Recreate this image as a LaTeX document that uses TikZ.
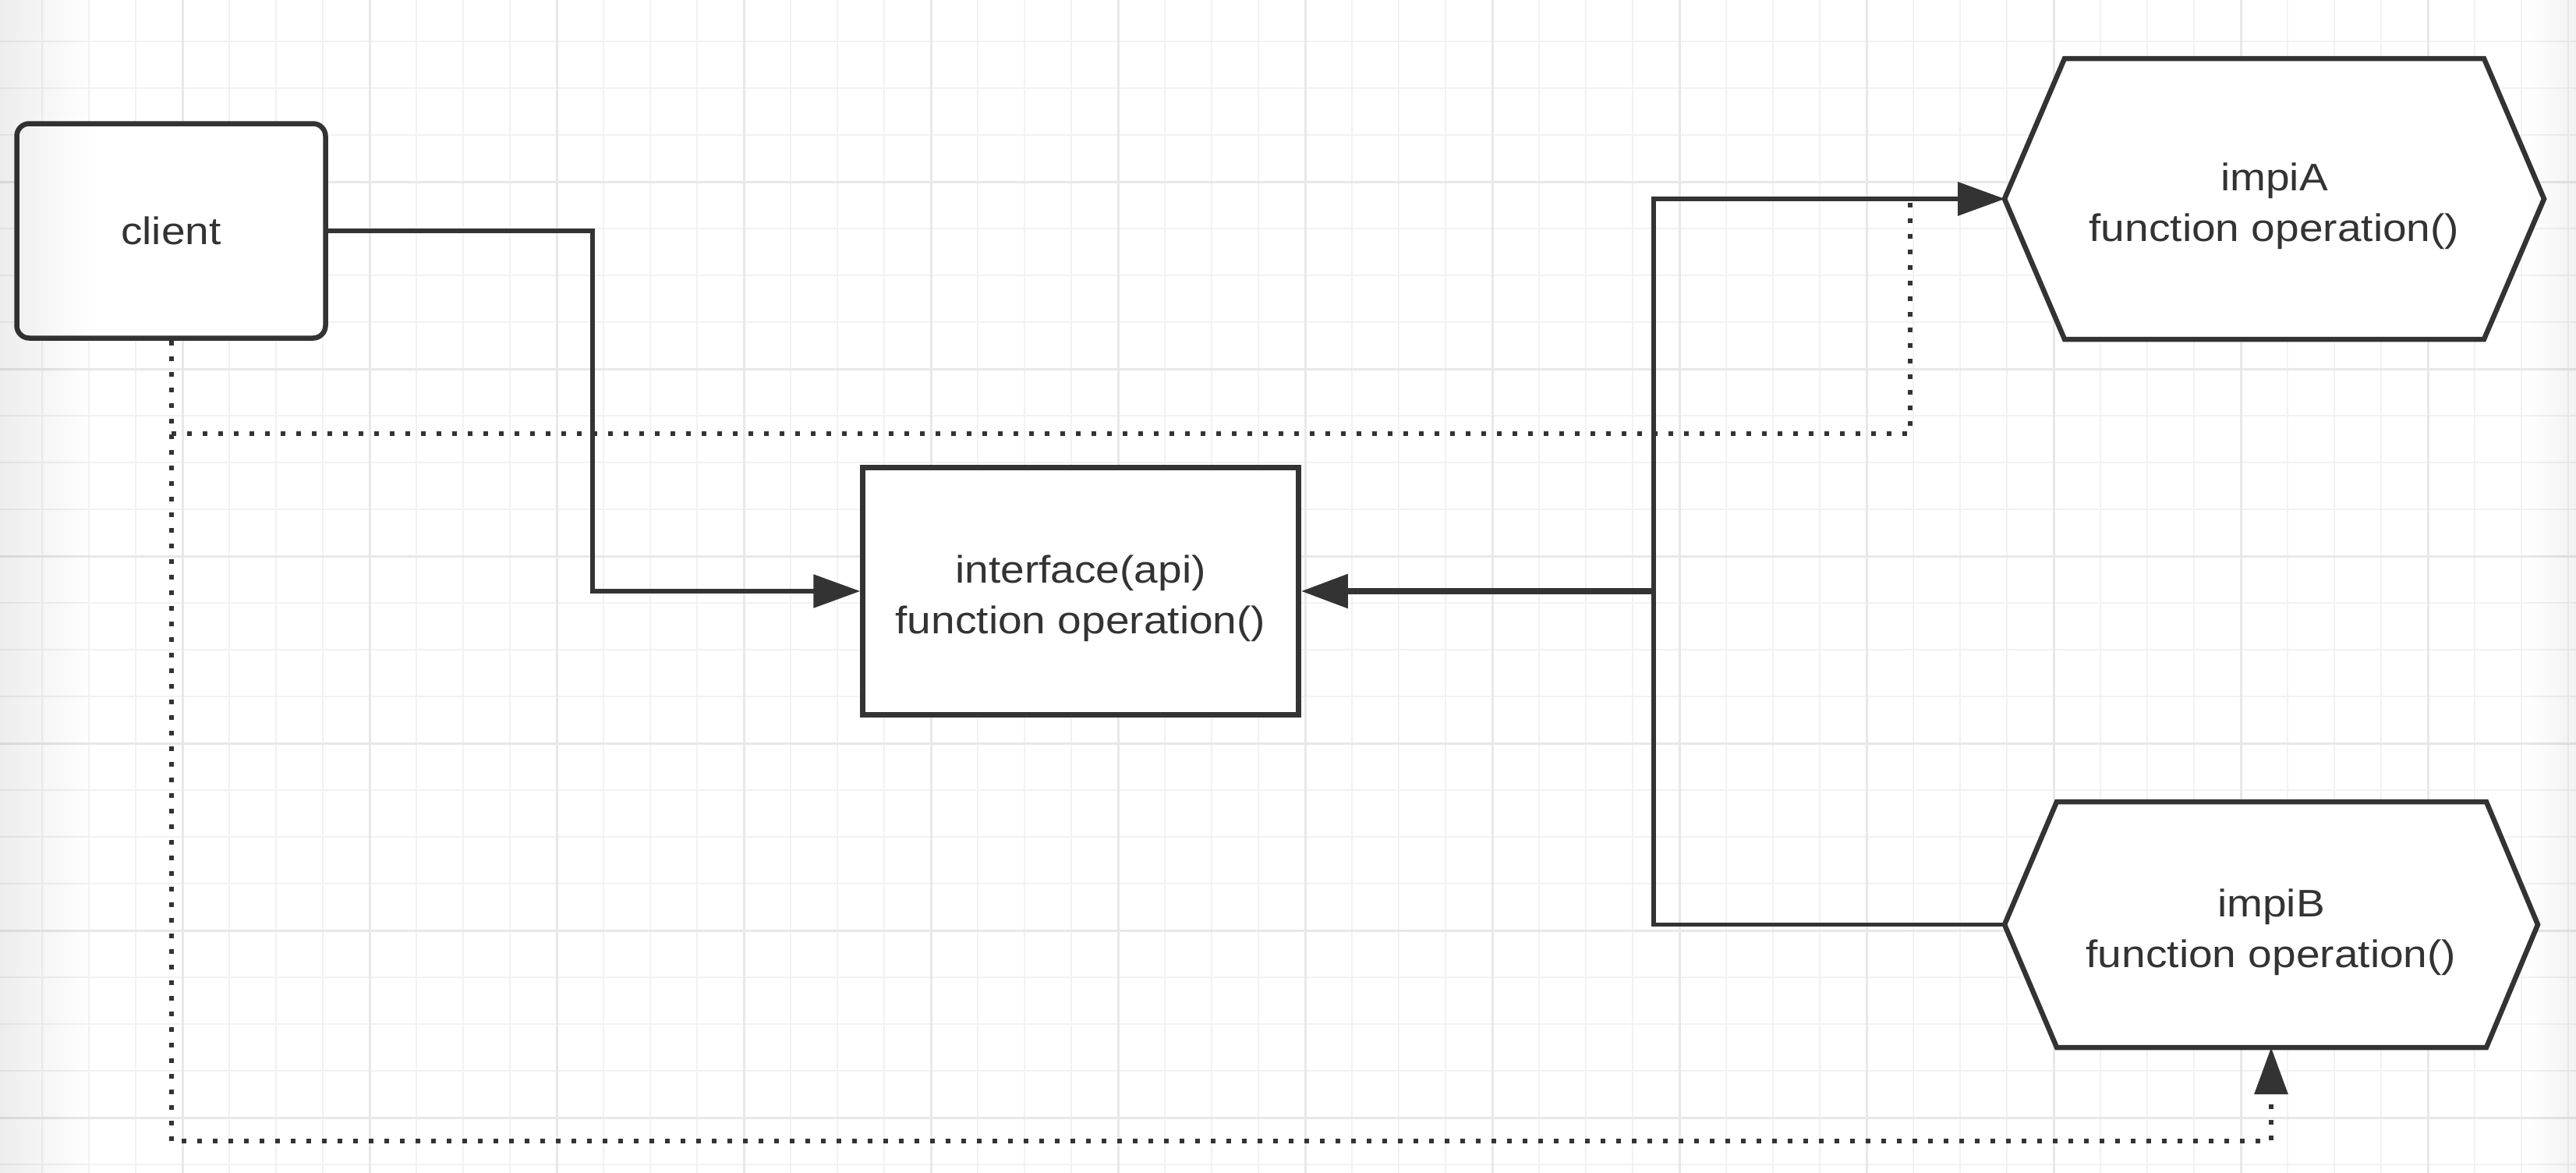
\documentclass[tikz,border=0pt]{standalone}
\usepackage{fontspec}
\setmainfont{Liberation Sans}[FakeStretch=1.12]
\usetikzlibrary{arrows.meta,fadings,calc}
\definecolor{ink}{HTML}{333333}
\definecolor{gridminor}{HTML}{F2F2F2}
\definecolor{gridmajor}{HTML}{E8E8E8}
\tikzfading[name=fadeR, left color=transparent!0, right color=transparent!100]
\tikzfading[name=fadeL, left color=transparent!100, right color=transparent!0]
\pgfdeclarelayer{bg}
\pgfdeclarelayer{mid}
\pgfsetlayers{bg,mid,main}
\newcommand{\topfix}{\rule{0pt}{0.55cm}}
\begin{document}
\begin{tikzpicture}[
  x=1cm,y=1cm,
  every node/.style={font=\fontsize{14pt}{18.5pt}\selectfont, text=ink, align=center},
  boxstyle/.style={draw=ink, line width=0.065cm, fill=white, inner sep=0pt},
  hexlabel/.style={inner sep=0pt, outer sep=0pt, draw=none},
  hexstyle/.style={draw=ink, line width=0.065cm, fill=white, line join=miter},
  thinline/.style={draw=ink, line width=0.055cm},
  thickline/.style={draw=ink, line width=0.085cm},
  dotline/.style={draw=ink, line width=0.06cm, dash pattern=on 0.06cm off 0.14cm},
  arrowtip/.style={-{Triangle[length=0.6cm,width=0.42cm]}},
  minorline/.style={draw=gridminor, line width=0.025cm},
  majorline/.style={draw=gridmajor, line width=0.03cm},
]
\useasboundingbox (0,0) rectangle (33.04,-15.04);

% background grid
\begin{pgfonlayer}{bg}
\fill[white] (0,0) rectangle (33.04,-15.04);
\foreach \i in {0,...,54} \draw[minorline] ({0.54+0.6*\i},0) -- ({0.54+0.6*\i},-15.04);
\foreach \j in {0,...,24} \draw[minorline] (0,{-0.53-0.6*\j}) -- (33.04,{-0.53-0.6*\j});
\foreach \i in {0,...,12} \draw[majorline] ({2.34+2.4*\i},0) -- ({2.34+2.4*\i},-15.04);
\foreach \j in {0,...,5} \draw[majorline] (0,{-2.33-2.4*\j}) -- (33.04,{-2.33-2.4*\j});
\end{pgfonlayer}

% nodes
\node[boxstyle, rounded corners=0.16cm, minimum width=3.96cm, minimum height=2.75cm] (client) at (2.195,-2.96) {client};
\node[boxstyle, minimum width=5.59cm, minimum height=3.17cm] (iface) at (13.86,-7.58) {\topfix interface(api)\\function operation()};
\node[hexlabel, minimum width=6.92cm, minimum height=3.60cm] (implA) at (29.17,-2.55) {\topfix impiA\\function operation()};
\node[hexlabel, minimum width=6.84cm, minimum height=3.15cm] (implB) at (29.13,-11.855) {\topfix impiB\\function operation()};

\begin{pgfonlayer}{mid}
\draw[hexstyle] (implA.west) -- ([xshift=0.77cm]implA.north west) -- ([xshift=-0.77cm]implA.north east) -- (implA.east) -- ([xshift=-0.77cm]implA.south east) -- ([xshift=0.77cm]implA.south west) -- cycle;
\draw[hexstyle] (implB.west) -- ([xshift=0.67cm]implB.north west) -- ([xshift=-0.66cm]implB.north east) -- (implB.east) -- ([xshift=-0.66cm]implB.south east) -- ([xshift=0.67cm]implB.south west) -- cycle;
\end{pgfonlayer}

% dotted connectors
\draw[dotline, arrowtip] (client.south) -- ++(0,-10.26) -| (implB.south);
\draw[dotline, arrowtip] (client.south) |- (24.50,-5.56) |- (implA.west);

% solid connectors
\coordinate (bus) at (21.21,-7.58);
\draw[thinline, arrowtip] (client.east) -- ++(3.39,0) |- (iface.west);
\draw[thickline, arrowtip] (bus) -- (iface.east);
\draw[thinline, arrowtip] (bus) |- (implA.west);
\draw[thinline] (bus) |- (implB.west);

% edge vignette
\fill[black, opacity=0.07, path fading=fadeR] (0,0) rectangle (1.2,-15.04);
\fill[black, opacity=0.05, path fading=fadeL] (32.4,0) rectangle (33.04,-15.04);
\end{tikzpicture}
\end{document}
